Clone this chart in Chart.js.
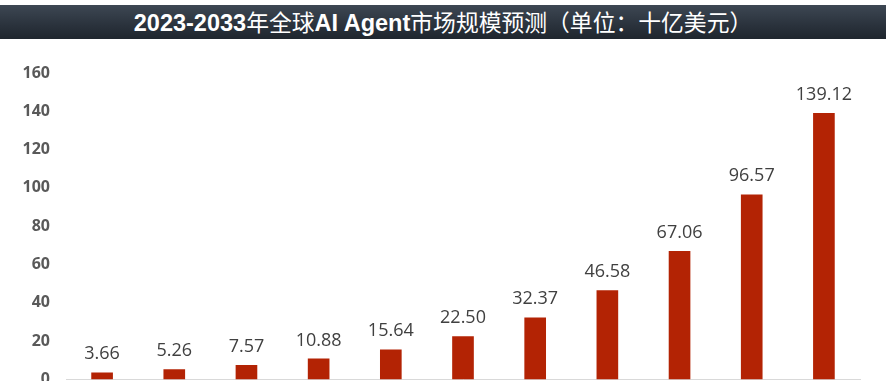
<!DOCTYPE html>
<html>
<head>
<meta charset="utf-8">
<script src="https://cdn.jsdelivr.net/npm/chart.js@4.4.0/dist/chart.umd.min.js"></script>
<style>
  html, body { margin: 0; padding: 0; background: #ffffff; width: 886px; height: 381px; overflow: hidden; }
  #title {
    position: absolute; left: 0; top: 5px; width: 886px; height: 34px;
    background: linear-gradient(to bottom, #3d4753 0%, #2a323c 60%, #1f262e 100%);
    color: #ffffff; text-align: center; line-height: 34px;
    white-space: nowrap; z-index: 2;
  }
  #title .b { font-family: "Liberation Sans", Arial, sans-serif; font-weight: bold; font-size: 23.5px; }
  #title .c { font-family: "Noto Sans CJK SC", sans-serif; font-weight: normal; font-size: 22.8px; }
  #wrap { position: absolute; left: 0; top: 0; width: 886px; height: 405px; }
</style>
</head>
<body>
<div id="title"><span class="b">2023-2033</span><span class="c">年全球</span><span class="b">AI Agent</span><span class="c">市场规模预测（单位：十亿美元）</span></div>
<div id="wrap"><canvas id="c" width="886" height="405"></canvas></div>
<script>
const categories = ["2023", "2024", "2025", "2026", "2027", "2028", "2029", "2030", "2031", "2032", "2033"];
const marketSize = [3.66, 5.26, 7.57, 10.88, 15.64, 22.50, 32.37, 46.58, 67.06, 96.57, 139.12];
const yTicks = [0, 20, 40, 60, 80, 100, 120, 140, 160];

const valueLabels = {
  id: 'valueLabels',
  afterDatasetsDraw(chart) {
    const ctx = chart.ctx;
    const meta = chart.getDatasetMeta(0);
    ctx.save();
    ctx.font = '18px "Open Sans", sans-serif';
    ctx.fillStyle = '#404040';
    ctx.textAlign = 'center';
    ctx.textBaseline = 'alphabetic';
    meta.data.forEach((bar, i) => {
      ctx.fillText(marketSize[i].toFixed(2), bar.x, bar.y - 13);
    });
    ctx.restore();
  }
};

new Chart(document.getElementById('c'), {
  type: 'bar',
  data: {
    labels: categories,
    datasets: [{
      data: marketSize,
      backgroundColor: '#b32304',
      borderWidth: 0,
      barPercentage: 0.3,
      categoryPercentage: 1.0
    }]
  },
  options: {
    responsive: false,
    animation: false,
    layout: { padding: { top: 73, right: 26, bottom: 16, left: 0 } },
    plugins: { legend: { display: false }, title: { display: false }, tooltip: { enabled: false } },
    scales: {
      x: {
        grid: { display: false },
        border: { display: true, color: '#d9d9d9', width: 1 },
        ticks: { display: false },
        afterFit(s) { s.height = 0; }
      },
      y: {
        min: 0, max: 160,
        afterBuildTicks(s) { s.ticks = yTicks.map(v => ({ value: v })); },
        grid: { display: false, drawTicks: false },
        border: { display: false },
        ticks: {
          padding: 16,
          color: '#595959',
          font: { family: '"Open Sans", sans-serif', size: 16, weight: 'bold' }
        },
        afterFit(s) { s.width = 66; }
      }
    }
  },
  plugins: [valueLabels]
});
</script>
</body>
</html>
